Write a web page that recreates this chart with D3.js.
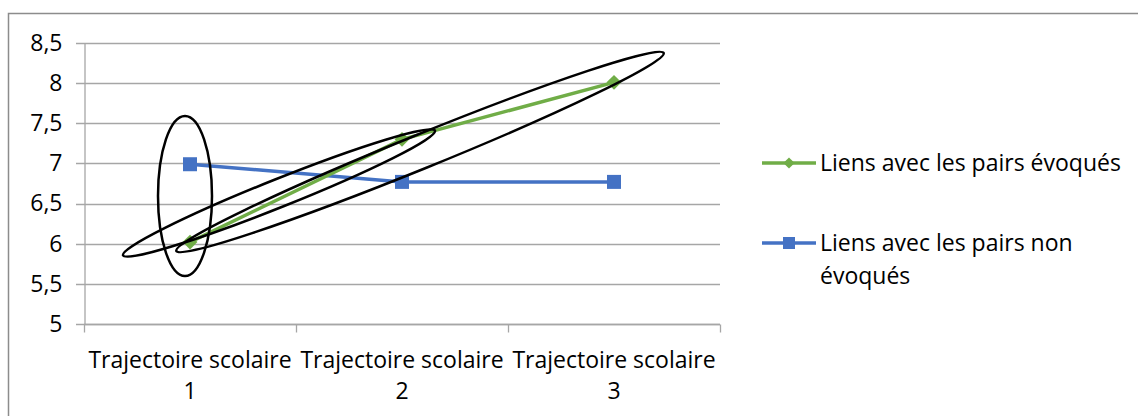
<!DOCTYPE html>
<html>
<head>
<meta charset="utf-8">
<script src="https://cdn.jsdelivr.net/npm/d3@7"></script>
<style>
  body { margin: 0; background: #fff; }
  svg { display: block; font-family: "Open Sans", sans-serif; }
</style>
</head>
<body>
<div id="chart"></div>
<script>
// chart data
const categories = ["Trajectoire scolaire 1", "Trajectoire scolaire 2", "Trajectoire scolaire 3"];
const seriesNames = ["Liens avec les pairs évoqués", "Liens avec les pairs non évoqués"];
const evoques = [6.02, 7.30, 8.01];
const nonEvoques = [6.99, 6.77, 6.77];
const yTicks = [5, 5.5, 6, 6.5, 7, 7.5, 8, 8.5];

const width = 1138, height = 416;
const margin = { top: 43, left: 84, right: 418, bottom: 92 };
const fontSize = 23;
const fontFamily = "'Open Sans', sans-serif";

const svg = d3.select("#chart").append("svg")
    .attr("width", width)
    .attr("height", height);

// outer frame
svg.append("rect")
    .attr("x", 8.5).attr("y", 13.5)
    .attr("width", width + 10).attr("height", height + 10)
    .attr("fill", "none")
    .attr("stroke", "#8c8c8c")
    .attr("stroke-width", 1.5);

const x = d3.scaleBand()
    .domain(categories)
    .range([margin.left, width - margin.right]);

const y = d3.scaleLinear()
    .domain([5, 8.5])
    .range([height - margin.bottom, margin.top]);

// gridlines
svg.append("g")
    .selectAll("line")
    .data(yTicks)
    .join("line")
    .attr("x1", margin.left - 8)
    .attr("x2", width - margin.right)
    .attr("y1", d => Math.round(y(d)) + 0.5)
    .attr("y2", d => Math.round(y(d)) + 0.5)
    .attr("stroke", "#a6a6a6")
    .attr("stroke-width", 1.3);

// y axis
const yAxis = svg.append("g")
    .attr("transform", `translate(${margin.left + 0.5},0)`)
    .call(d3.axisLeft(y).tickValues(yTicks).tickSize(0).tickPadding(22)
        .tickFormat(d => String(d).replace(".", ",")));
yAxis.attr("font-size", fontSize).attr("font-family", fontFamily);
yAxis.select(".domain").attr("stroke", "#a6a6a6").attr("stroke-width", 1.3);
yAxis.selectAll(".tick text").attr("fill", "#000");

// x axis with boundary ticks
const xAxisY = Math.round(y(5)) + 0.5;
const xg = svg.append("g");
xg.append("line")
    .attr("x1", margin.left).attr("x2", width - margin.right)
    .attr("y1", xAxisY).attr("y2", xAxisY)
    .attr("stroke", "#a6a6a6").attr("stroke-width", 1.3);
const bounds = categories.map(c => x(c)).concat([x.range()[1]]);
xg.selectAll("line.b")
    .data(bounds)
    .join("line")
    .attr("class", "b")
    .attr("x1", d => Math.round(d) + 0.5).attr("x2", d => Math.round(d) + 0.5)
    .attr("y1", xAxisY).attr("y2", xAxisY + 8)
    .attr("stroke", "#a6a6a6").attr("stroke-width", 1.3);

const xl = xg.selectAll("text")
    .data(categories)
    .join("text")
    .attr("text-anchor", "middle")
    .attr("font-size", fontSize)
    .attr("font-family", fontFamily)
    .attr("fill", "#000");
xl.append("tspan")
    .attr("x", d => x(d) + x.bandwidth() / 2)
    .attr("y", 368)
    .text(d => d.split(" ").slice(0, 2).join(" "));
xl.append("tspan")
    .attr("x", d => x(d) + x.bandwidth() / 2)
    .attr("y", 399)
    .text(d => d.split(" ")[2]);

const cx = c => x(c) + x.bandwidth() / 2;
const line = d3.line().x(d => cx(d.c)).y(d => y(d.v));

const green = "#70ad47", blue = "#4472c4";

const greenData = categories.map((c, i) => ({ c, v: evoques[i] }));
const blueData = categories.map((c, i) => ({ c, v: nonEvoques[i] }));

// blue series
svg.append("path")
    .datum(blueData)
    .attr("d", line)
    .attr("fill", "none")
    .attr("stroke", blue)
    .attr("stroke-width", 3.5);
svg.append("g").selectAll("rect")
    .data(blueData)
    .join("rect")
    .attr("x", d => cx(d.c) - 7)
    .attr("y", d => y(d.v) - 7)
    .attr("width", 14).attr("height", 14)
    .attr("fill", blue);

// green series
svg.append("path")
    .datum(greenData)
    .attr("d", line)
    .attr("fill", "none")
    .attr("stroke", green)
    .attr("stroke-width", 3.5);
const diamond = d3.symbol().type(d3.symbolDiamond2).size(140);
svg.append("g").selectAll("path")
    .data(greenData)
    .join("path")
    .attr("transform", d => `translate(${cx(d.c)},${y(d.v)})`)
    .attr("d", diamond)
    .attr("fill", green);

// hand-drawn annotation ellipses
const ellipses = [
    { cx: 185, cy: 196, rx: 27, ry: 80, rot: 0 },
    { cx: 279, cy: 193, rx: 168, ry: 14, rot: -21.8 },
    { cx: 420, cy: 152, rx: 263, ry: 17, rot: -22.1 }
];
svg.append("g").selectAll("ellipse")
    .data(ellipses)
    .join("ellipse")
    .attr("transform", d => `translate(${d.cx},${d.cy}) rotate(${d.rot})`)
    .attr("rx", d => d.rx).attr("ry", d => d.ry)
    .attr("fill", "none")
    .attr("stroke", "#000")
    .attr("stroke-width", 2.5);

// legend
const legend = svg.append("g")
    .attr("font-size", fontSize)
    .attr("font-family", fontFamily);
const legendRows = [
    { color: green, y: 163, lines: ["Liens avec les pairs évoqués"] },
    { color: blue, y: 243, lines: ["Liens avec les pairs non", "évoqués"] }
];
legendRows.forEach((r, i) => {
    legend.append("line")
        .attr("x1", 762).attr("x2", 816)
        .attr("y1", r.y).attr("y2", r.y)
        .attr("stroke", r.color).attr("stroke-width", 3.5);
    if (i === 0) {
        legend.append("path")
            .attr("transform", `translate(789,${r.y})`)
            .attr("d", d3.symbol().type(d3.symbolDiamond2).size(80))
            .attr("fill", r.color);
    } else {
        legend.append("rect")
            .attr("x", 783).attr("y", r.y - 6)
            .attr("width", 12).attr("height", 12)
            .attr("fill", r.color);
    }
    const t = legend.append("text").attr("fill", "#000");
    r.lines.forEach((l, j) => {
        t.append("tspan")
            .attr("x", 820)
            .attr("y", r.y + 8 + j * 33)
            .text(l);
    });
});
</script>
</body>
</html>
